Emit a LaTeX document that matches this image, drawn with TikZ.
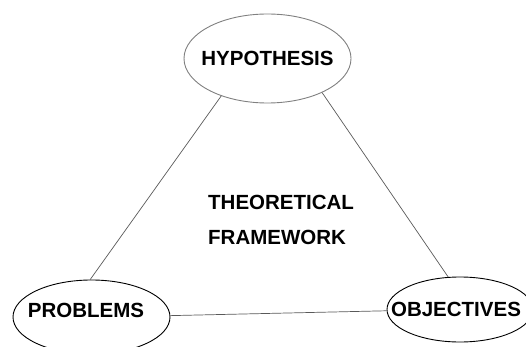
\documentclass[tikz,border=0pt]{standalone}
\usepackage{fontspec}
\setmainfont{Liberation Sans}
\usepackage{tikz}
\usetikzlibrary{shapes.geometric}

\begin{document}
\begin{tikzpicture}[x=1pt, y=-1pt,
  oval/.style={draw, ellipse, inner sep=0pt, line width=0.9pt, font=\fontsize{20.5}{24}\selectfont\bfseries},
  link/.style={draw=black!65, line width=0.7pt}]
\useasboundingbox (0,0) rectangle (526,347);
\node[oval, draw=black!50, minimum width=167pt, minimum height=89pt] (hyp) at (267.5,58.5) {\makebox[0pt]{HYPOTHESIS}};
\node[oval, minimum width=157pt, minimum height=74pt, text height=14.7pt, text depth=14pt] (prob) at (91.5,317) {\makebox[0pt]{PROBLEMS\hspace*{11pt}}};
\node[oval, minimum width=146pt, minimum height=65pt] (obj) at (460,309.5) {\makebox[0pt]{OBJECTIVES\hspace*{8pt}}};
\node[anchor=west, align=left, inner sep=0pt, font=\fontsize{20.5}{35}\selectfont\bfseries] (frame) at (208,220) {THEORETICAL\\FRAMEWORK};
\draw[link] (hyp.219) -- (prob.92);
\draw[link] (hyp.328) -- (obj.110);
\draw[link] (prob.1.5) -- (obj.181);
\end{tikzpicture}
\end{document}
